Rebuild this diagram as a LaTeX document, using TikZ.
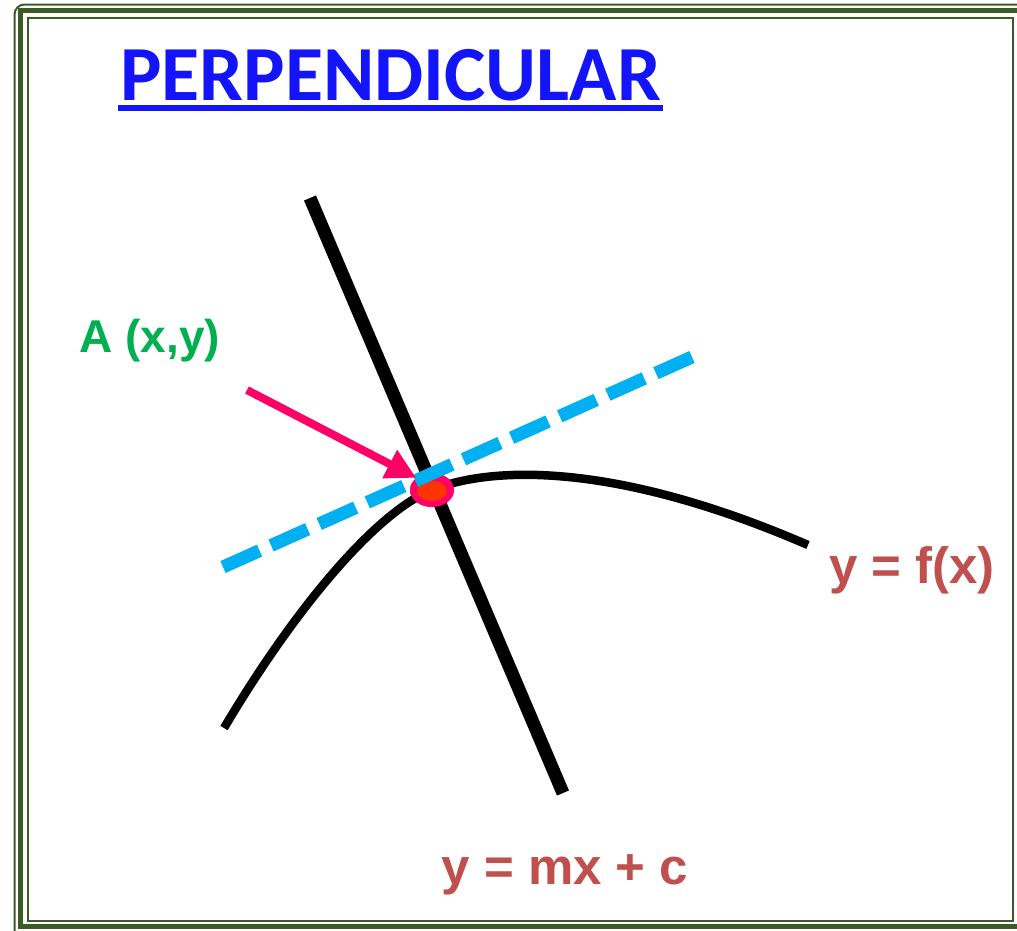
\documentclass[tikz,border=0pt]{standalone}
\usepackage{fontspec}
\setmainfont{Liberation Sans}
\newfontfamily\titlefont{Carlito}
\usetikzlibrary{arrows.meta, positioning, shapes.geometric}
\definecolor{framegreen}{RGB}{60,90,35}
\definecolor{titleblue}{RGB}{20,20,250}
\definecolor{labelred}{RGB}{192,80,77}
\definecolor{labelgreen}{RGB}{0,176,80}
\definecolor{tanblue}{RGB}{0,176,240}
\definecolor{arrowpink}{RGB}{255,0,102}
\definecolor{dotred}{RGB}{255,51,0}

\begin{document}
\begin{tikzpicture}[x=1pt, y=-1pt,
        lbl/.style={font=\fontsize{51}{53}\selectfont\bfseries, text=labelred, inner sep=0, anchor=base},
        blob/.style={ellipse, inner sep=0, draw=none}]
    \useasboundingbox (0,0) rectangle (1017,930);
    \clip (0,0) rectangle (1017,930);
    % frame
    \draw[framegreen, line width=2pt, rounded corners=10pt] (14.5,4.5) rectangle (1040,945);
    \draw[framegreen, line width=5pt] (20.5,10.5) rectangle (1040,926.5);
    \draw[framegreen, line width=2pt] (28,18) rectangle (1013,921);
    % title
    \node[font=\titlefont\fontsize{78}{80}\selectfont\bfseries, text=titleblue, inner sep=0, anchor=base west]
        (title) at (120,100) {PERPENDICULAR};
    \draw[titleblue, line width=6pt] ([shift={(-2pt,-8pt)}]title.base west) -- ([shift={(2pt,-8pt)}]title.base east);
    % point A
    \node[blob, fill=arrowpink, minimum width=44pt, minimum height=34pt] (pt) at (432,490) {};
    \coordinate (cL) at (224,728);
    \coordinate (cR) at (808,545);
    \coordinate (nTop) at (310,198);
    \coordinate (nBot) at (563,793);
    \coordinate (tL) at (223,567);
    \coordinate (tR) at (692,357);
    \coordinate (aTail) at (247,390);
    \draw[line width=8.5pt] (cL) .. controls (300,600) and (380,510) .. (pt.center)
        .. controls (480,470) and (600,455) .. (cR);
    \draw[line width=13pt] (nTop) -- (nBot);
    \node[blob, fill=arrowpink, minimum width=44pt, minimum height=34pt] at (pt) {};
    \node[blob, fill=dotred, minimum width=30pt, minimum height=20pt] (dot) at (432,491) {};
    \draw[tanblue, line width=13pt, dash pattern=on 40pt off 12.7pt] (tL) -- (tR);
    \draw[arrowpink, line width=8pt, -{Triangle[length=30pt, width=30pt]}] (aTail) -- (pt.north west);
    % labels
    \node[lbl, font=\fontsize{46}{48}\selectfont\bfseries, text=labelgreen] (alabel) at (150,352) {A (x,y)};
    \node[lbl] (flabel) at (912,583) {y = f(x)};
    \node[lbl] (mlabel) at (565,884) {y = mx + c};
\end{tikzpicture}
\end{document}
